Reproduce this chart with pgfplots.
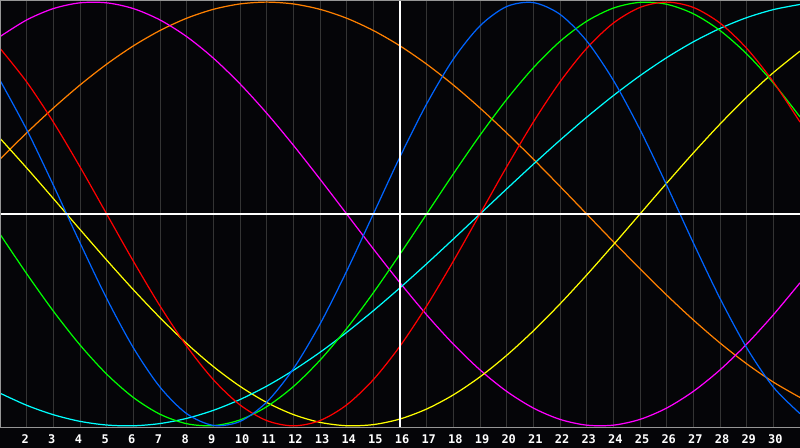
\documentclass[border=0pt]{standalone}
\usepackage{fontspec}
\usepackage{pgfplots}
\usepackage{pgfplotstable}
\pgfplotsset{compat=1.18}
\newfontfamily\tickfont{DejaVu Sans Mono}

\definecolor{bg}{RGB}{5,5,8}
\definecolor{gridgray}{RGB}{52,52,52}
\definecolor{bordergray}{RGB}{150,150,150}
\definecolor{physc}{RGB}{0,100,255}
\definecolor{emoc}{RGB}{255,0,0}
\definecolor{intlc}{RGB}{0,255,0}
\definecolor{intuc}{RGB}{255,0,255}
\definecolor{aesc}{RGB}{255,255,0}
\definecolor{awac}{RGB}{255,128,0}
\definecolor{spic}{RGB}{0,255,255}

% day, then the seven cycles (23, 28, 33, 38, 43, 48, 53 days)
\pgfplotstableread{
d  phys    emo     intl    intu    aes     awa     spi
1  0.6311  0.7818 -0.0951  0.8372  0.3572  0.2588 -0.8456
2  0.3984  0.6235 -0.2817  0.9158  0.2174  0.3827 -0.9028
3  0.1362  0.4339 -0.4582  0.9694  0.0730  0.5000 -0.9473
4 -0.1362  0.2225 -0.6182  0.9966 -0.0730  0.6088 -0.9786
5 -0.3984  0.0000 -0.7557  0.9966 -0.2174  0.7071 -0.9960
6 -0.6311 -0.2225 -0.8660  0.9694 -0.3572  0.7934 -0.9996
7 -0.8170 -0.4339 -0.9450  0.9158 -0.4894  0.8660 -0.9890
8 -0.9423 -0.6235 -0.9898  0.8372 -0.6112  0.9239 -0.9646
9 -0.9977 -0.7818 -0.9989  0.7357 -0.7199  0.9659 -0.9267
10 -0.9791 -0.9010 -0.9718  0.6142 -0.8133  0.9914 -0.8757
11 -0.8879 -0.9749 -0.9096  0.4759 -0.8894  1.0000 -0.8125
12 -0.7308 -1.0000 -0.8146  0.3247 -0.9465  0.9914 -0.7378
13 -0.5196 -0.9749 -0.6901  0.1646 -0.9834  0.9659 -0.6528
14 -0.2698 -0.9010 -0.5406  0.0000 -0.9993  0.9239 -0.5586
15  0.0000 -0.7818 -0.3717 -0.1646 -0.9940  0.8660 -0.4566
16  0.2698 -0.6235 -0.1893 -0.3247 -0.9675  0.7934 -0.3482
17  0.5196 -0.4339  0.0000 -0.4759 -0.9203  0.7071 -0.2349
18  0.7308 -0.2225  0.1893 -0.6142 -0.8536  0.6088 -0.1183
19  0.8879  0.0000  0.3717 -0.7357 -0.7686  0.5000  0.0000
20  0.9791  0.2225  0.5406 -0.8372 -0.6672  0.3827  0.1183
21  0.9977  0.4339  0.6901 -0.9158 -0.5517  0.2588  0.2349
22  0.9423  0.6235  0.8146 -0.9694 -0.4244  0.1305  0.3482
23  0.8170  0.7818  0.9096 -0.9966 -0.2881  0.0000  0.4566
24  0.6311  0.9010  0.9718 -0.9966 -0.1456 -0.1305  0.5586
25  0.3984  0.9749  0.9989 -0.9694  0.0000 -0.2588  0.6528
26  0.1362  1.0000  0.9898 -0.9158  0.1456 -0.3827  0.7378
27 -0.1362  0.9749  0.9450 -0.8372  0.2881 -0.5000  0.8125
28 -0.3984  0.9010  0.8660 -0.7357  0.4244 -0.6088  0.8757
29 -0.6311  0.7818  0.7557 -0.6142  0.5517 -0.7071  0.9267
30 -0.8170  0.6235  0.6182 -0.4759  0.6672 -0.7934  0.9646
31 -0.9423  0.4339  0.4582 -0.3247  0.7686 -0.8660  0.9890
}\cycles

\begin{document}
\begin{tikzpicture}
  \fill[bg] (0,-0.4) rectangle (16,8.56);
  \begin{axis}[
      at={(0,0)}, anchor=south west,
      scale only axis,
      width=16cm, height=8.56cm,
      xmin=1, xmax=31,
      ymin=-1.01, ymax=1.01,
      xtick={2,...,30},
      ytick=\empty,
      major tick length=0pt,
      xmajorgrids,
      grid style={gridgray, line width=0.55pt},
      axis line style={draw=none},
      /pgf/number format/assume math mode=true,
      xticklabel style={anchor=west, xshift=-0.11cm, yshift=-0.22cm,
        inner sep=0pt, text=white, font=\tickfont\bfseries\fontsize{6.8}{7}\selectfont},
      every axis plot/.append style={line width=0.7pt, smooth, no markers},
    ]
    \addplot[awac]  table[x=d, y=awa]  {\cycles};
    \addplot[intuc] table[x=d, y=intu] {\cycles};
    \addplot[aesc]  table[x=d, y=aes]  {\cycles};
    \addplot[spic]  table[x=d, y=spi]  {\cycles};
    \addplot[intlc] table[x=d, y=intl] {\cycles};
    \addplot[emoc]  table[x=d, y=emo]  {\cycles};
    \addplot[physc] table[x=d, y=phys] {\cycles};

    \draw[white, line width=0.6pt] (axis cs:16,-1.01) -- (axis cs:16,1.01);
    \draw[white, line width=0.6pt] (rel axis cs:0,0.5) -- (rel axis cs:1,0.5);
    \draw[bordergray, line width=1.1pt] (rel axis cs:1,1) -- (rel axis cs:0,1) -- (rel axis cs:0,0);
    \draw[bordergray, line width=0.6pt] (rel axis cs:0,0) -- (rel axis cs:1,0);
  \end{axis}
  \pgfresetboundingbox
  \useasboundingbox (0,-0.4) rectangle (16,8.56);
\end{tikzpicture}
\end{document}
